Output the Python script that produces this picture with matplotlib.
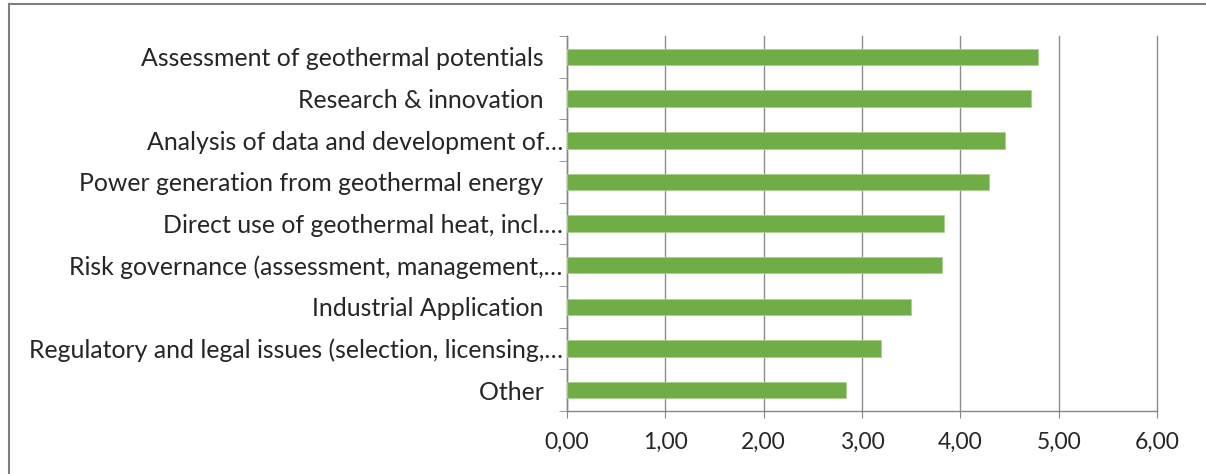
import matplotlib.pyplot as plt
import numpy as np
from matplotlib.lines import Line2D

plt.rcParams['font.family'] = ['Lato', 'DejaVu Sans']

categories = [
    "Assessment of geothermal potentials   ",
    "Research & innovation   ",
    "Analysis of data and development of…",
    "Power generation from geothermal energy   ",
    "Direct use of geothermal heat, incl.…",
    "Risk governance (assessment, management,…",
    "Industrial Application   ",
    "Regulatory and legal issues (selection, licensing,…",
    "Other   ",
]
values = [4.79, 4.72, 4.45, 4.29, 3.83, 3.81, 3.50, 3.19, 2.84]
xticks = [0, 1, 2, 3, 4, 5, 6]
xtick_labels = ["0,00", "1,00", "2,00", "3,00", "4,00", "5,00", "6,00"]

fig = plt.figure(figsize=(12.06, 4.74), dpi=100)
ax = fig.add_axes([567/1206, 1 - 411/474, (1157-567)/1206, (411-36)/474])

y = np.arange(len(categories))
ax.barh(y, values, height=0.4, color='#70ad47', edgecolor='#a9d18e', linewidth=0.6, zorder=3)
ax.set_ylim(len(categories) - 0.5, -0.5)
ax.set_xlim(0, 6)

ax.set_xticks(xticks)
ax.set_xticklabels(xtick_labels, fontsize=16.5, color='#262626')
ax.set_yticks(y)
ax.set_yticklabels(categories, fontsize=17.9, color='#262626')
ax.tick_params(axis='y', length=0, pad=3)
ax.tick_params(axis='x', length=5, color='#868686', pad=10)
# category boundary ticks
ax.set_yticks(np.arange(-0.5, len(categories), 1), minor=True)
ax.tick_params(axis='y', which='minor', length=6, color='#868686')

ax.grid(axis='x', color='#8c8c8c', linewidth=1, zorder=0)
for gl in ax.get_xgridlines():
    gl.set_clip_on(False)
for s in ['top', 'right']:
    ax.spines[s].set_visible(False)
for s in ['left', 'bottom']:
    ax.spines[s].set_color('#868686')
    ax.spines[s].set_linewidth(1)

# outer chart border (only top and left visible)
fig.add_artist(Line2D([9/1206, 9/1206], [0, 1 - 4/474], transform=fig.transFigure, color='#7f7f7f', lw=1.5))
fig.add_artist(Line2D([9/1206, 1], [1 - 4/474, 1 - 4/474], transform=fig.transFigure, color='#7f7f7f', lw=1.5))

plt.savefig('out.png', dpi=100)
